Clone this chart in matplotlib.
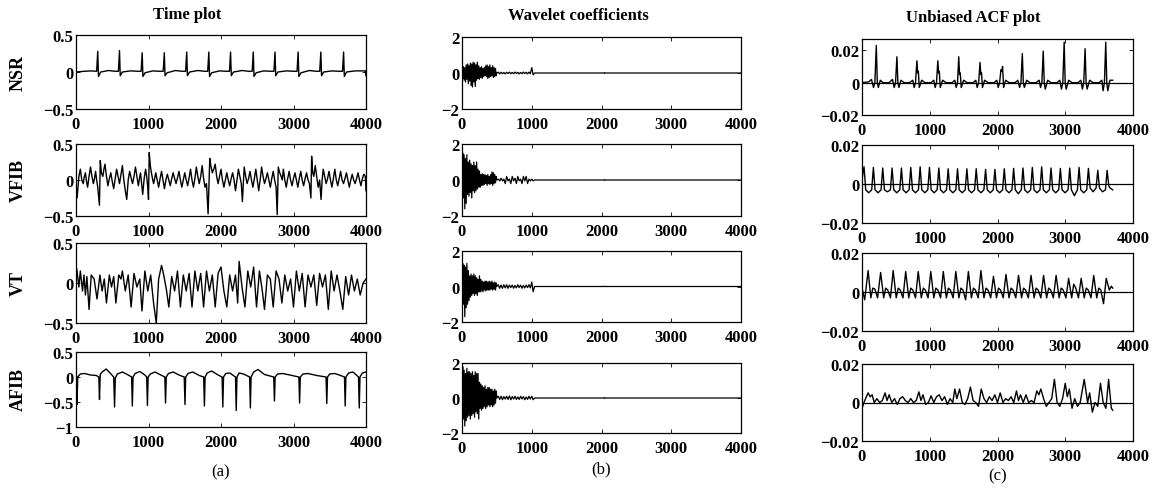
import numpy as np
import matplotlib
matplotlib.use('Agg')
import matplotlib.pyplot as plt

plt.rcParams['font.family'] = ['Liberation Serif', 'DejaVu Serif']
plt.rcParams['font.weight'] = 'bold'

# ---------------- data: time plots (column a) ----------------
nsr_t_x = [0, 120, 200, 285, 300, 310, 340, 450, 540, 585, 600, 610, 640, 750, 850,
           898, 913, 923, 953, 1060, 1150, 1203, 1218, 1228, 1258, 1370, 1460,
           1512, 1527, 1537, 1567, 1680, 1770, 1817, 1832, 1842, 1872, 1980, 2070,
           2117, 2132, 2142, 2172, 2290, 2380, 2430, 2445, 2455, 2485, 2590, 2680,
           2730, 2745, 2755, 2785, 2900, 3000, 3049, 3064, 3074, 3104, 3220, 3310,
           3362, 3377, 3387, 3417, 3530, 3620, 3676, 3691, 3701, 3731, 3850, 3990, 4000]
nsr_t_y = [0.0, 0.01, 0.015, 0.01, 0.28, -0.06, 0.0, 0.02, 0.01, 0.01, 0.29, -0.05, 0.0, 0.015, 0.01,
           0.01, 0.26, -0.06, -0.01, 0.015, 0.01, 0.01, 0.26, -0.05, -0.01, 0.02, 0.01,
           0.01, 0.27, -0.05, 0.0, 0.02, 0.01, 0.01, 0.27, -0.06, -0.01, 0.015, 0.01,
           0.01, 0.27, -0.05, 0.0, 0.02, 0.01, 0.01, 0.27, -0.06, -0.01, 0.015, 0.01,
           0.01, 0.27, -0.05, 0.0, 0.015, 0.01, 0.01, 0.27, -0.06, -0.01, 0.02, 0.01,
           0.01, 0.27, -0.05, 0.0, 0.015, 0.01, 0.01, 0.27, -0.06, 0.0, 0.015, 0.015, -0.05]

vfib_t_x = [0, 15, 40, 60, 80, 100, 115, 130, 145, 160, 180, 200, 220, 240, 255, 270, 285, 300,
            323, 335, 350, 370, 385, 400, 420, 440, 460, 480, 500, 520, 540, 560, 580, 600, 620,
            640, 660, 680, 700, 720, 740, 760, 780, 800, 820, 840, 860, 875, 890, 905, 920, 940,
            960, 975, 990, 1000, 1010, 1025, 1040, 1055, 1070, 1085, 1100, 1120, 1140, 1160,
            1180, 1200, 1220, 1240, 1260, 1280, 1300, 1320, 1340, 1360, 1380, 1400, 1420, 1440,
            1460, 1480, 1500, 1520, 1540, 1560, 1580, 1600, 1620, 1640, 1660, 1680, 1700, 1720,
            1740, 1760, 1780, 1800, 1822, 1845, 1860, 1880, 1900, 1920, 1940, 1960, 1980, 2000,
            2020, 2040, 2060, 2080, 2100, 2120, 2140, 2160, 2180, 2200, 2220, 2240, 2260, 2280,
            2295, 2320, 2340, 2360, 2380, 2400, 2420, 2440, 2460, 2480, 2500, 2520, 2540, 2560,
            2580, 2600, 2620, 2640, 2660, 2680, 2700, 2720, 2740, 2760, 2775, 2790, 2810, 2830,
            2845, 2860, 2880, 2900, 2920, 2940, 2960, 2980, 3000, 3020, 3040, 3060, 3080, 3100,
            3120, 3140, 3160, 3180, 3200, 3220, 3240, 3250, 3265, 3280, 3300, 3320, 3340, 3360,
            3380, 3395, 3410, 3430, 3450, 3470, 3490, 3510, 3530, 3550, 3570, 3590, 3610, 3630,
            3650, 3670, 3690, 3710, 3730, 3750, 3770, 3790, 3810, 3830, 3850, 3870, 3890, 3910,
            3930, 3950, 3970, 3990, 4000]
vfib_t_y = [-0.05, -0.25, 0.05, 0.15, 0.0, -0.05, 0.05, 0.1, -0.02, -0.1, 0.05, 0.18, 0.05,
            -0.05, 0.02, 0.12, 0.0, -0.1, -0.35, 0.27, 0.1, 0.05, 0.15, 0.22, 0.05, -0.08,
            0.02, 0.1, -0.02, -0.12, 0.02, 0.15, 0.05, -0.05, 0.08, 0.2, 0.0, -0.15, -0.27,
            0.0, 0.12, 0.03, -0.05, 0.05, 0.18, 0.05, -0.08, 0.02, 0.1, -0.05, -0.2, 0.02, 0.15,
            0.05, -0.1, -0.27, 0.38, 0.2, 0.1, 0.02, -0.05, 0.02, 0.1, 0.0, -0.1, 0.02, 0.12,
            0.0, -0.12, 0.0, 0.08, 0.0, -0.08, 0.02, 0.1, 0.02, -0.05, 0.03, 0.12, 0.0, -0.1,
            0.0, 0.1, 0.0, -0.08, 0.03, 0.15, 0.0, -0.1, 0.02, 0.18, 0.05, -0.05, 0.05, 0.2,
            0.02, -0.1, -0.05, -0.47, 0.3, 0.2, 0.1, 0.15, 0.22, 0.05, -0.05, 0.05, 0.15, 0.0,
            -0.1, 0.0, 0.1, 0.0, -0.08, 0.02, 0.1, 0.0, -0.15, 0.0, 0.15, 0.05, -0.05, -0.3,
            0.18, 0.05, -0.05, 0.02, 0.12, 0.0, -0.1, 0.02, 0.15, 0.0, -0.15, 0.0, 0.18, 0.05,
            -0.05, 0.02, 0.1, 0.0, -0.1, 0.02, 0.12, 0.0, -0.1, -0.48, 0.18, 0.1, 0.05, 0.0,
            0.15, 0.0, -0.1, 0.02, 0.12, 0.0, -0.08, 0.02, 0.1, 0.0, -0.1, 0.02, 0.12, 0.0,
            -0.08, 0.02, 0.1, 0.0, -0.05, -0.25, 0.33, 0.1, 0.05, 0.2, 0.05, -0.1, 0.0, -0.27,
            0.0, 0.15, 0.05, -0.05, 0.02, 0.12, 0.0, -0.1, 0.02, 0.15, 0.0, -0.08, 0.02, 0.12,
            0.0, -0.05, 0.02, 0.1, 0.0, -0.1, 0.0, 0.08, 0.0, -0.05, 0.02, 0.1, 0.0, -0.08,
            0.02, 0.08, 0.05, -0.15]

vt_t_x = [0, 10, 40, 60, 90, 110, 130, 150, 180, 210, 250, 290, 330, 360, 390, 420, 460, 490,
          520, 550, 590, 620, 640, 680, 720, 760, 800, 840, 880, 910, 950, 990, 1030, 1070, 1107,
          1140, 1180, 1210, 1250, 1280, 1320, 1360, 1400, 1440, 1480, 1520, 1560, 1600, 1640,
          1680, 1720, 1760, 1800, 1840, 1880, 1920, 1960, 2000, 2040, 2080, 2120, 2160, 2200,
          2230, 2250, 2290, 2330, 2370, 2410, 2450, 2490, 2530, 2570, 2600, 2640, 2680, 2720,
          2760, 2800, 2840, 2880, 2920, 2960, 3000, 3040, 3080, 3120, 3160, 3200, 3240, 3280,
          3320, 3360, 3400, 3440, 3480, 3520, 3560, 3600, 3640, 3680, 3720, 3760, 3800, 3840,
          3880, 3920, 3960, 4000]
vt_t_y = [0.05, 0.18, -0.05, 0.15, -0.1, 0.1, -0.15, 0.08, -0.33, 0.1, 0.05, -0.2, 0.1, -0.1,
          0.05, -0.25, 0.1, -0.05, 0.08, -0.25, 0.1, 0.05, 0.15, -0.1, 0.1, -0.3, 0.12, -0.05,
          0.05, -0.35, 0.15, -0.1, 0.1, -0.25, -0.5, 0.05, 0.22, 0.1, -0.1, -0.3, 0.08, -0.1,
          0.15, -0.3, 0.1, -0.1, 0.12, -0.3, 0.15, -0.1, 0.12, -0.3, 0.15, -0.1, 0.1, -0.3,
          0.12, 0.2, -0.1, -0.3, 0.1, -0.1, 0.1, -0.25, 0.27, -0.05, -0.3, 0.15, -0.05, 0.2,
          -0.3, 0.15, -0.1, -0.33, 0.1, 0.05, -0.3, 0.15, 0.05, -0.25, 0.1, -0.1, 0.05, -0.3,
          0.15, -0.1, 0.12, -0.3, 0.1, -0.05, 0.1, -0.28, 0.12, -0.05, 0.1, -0.33, 0.15, -0.1,
          0.1, -0.1, -0.33, 0.08, -0.15, 0.1, -0.1, 0.05, -0.15, 0.0, 0.05]

afib_t_x = [0, 8, 14, 24, 60, 120, 200, 280, 315, 324, 334, 360, 416, 470, 520, 532, 542, 570,
            640, 720, 767, 777, 787, 815, 880, 950, 975, 985, 995, 1025, 1090, 1170, 1225, 1235,
            1245, 1275, 1340, 1420, 1493, 1503, 1513, 1545, 1610, 1700, 1761, 1771, 1781, 1810,
            1870, 1960, 2015, 2025, 2035, 2065, 2120, 2200, 2210, 2220, 2250, 2310, 2395, 2405,
            2415, 2450, 2510, 2600, 2727, 2737, 2747, 2780, 2850, 2950, 3074, 3084, 3094, 3130,
            3200, 3320, 3449, 3459, 3469, 3500, 3570, 3650, 3703, 3713, 3723, 3760, 3820, 3897,
            3907, 3917, 3950, 4000]
afib_t_y = [0.0, 0.0, -0.55, 0.0, 0.06, 0.07, 0.04, 0.03, 0.0, -0.45, 0.05, 0.1, 0.16, 0.08,
            0.0, -0.6, -0.02, 0.06, 0.1, 0.04, 0.0, -0.58, 0.0, 0.07, 0.11, 0.04, 0.0, -0.57, 0.0,
            0.06, 0.1, 0.04, 0.0, -0.52, 0.0, 0.07, 0.1, 0.04, 0.0, -0.55, 0.0, 0.07, 0.1, 0.03,
            0.0, -0.58, 0.0, 0.08, 0.12, 0.04, 0.0, -0.6, 0.0, 0.07, 0.08, 0.0, -0.67, 0.0, 0.08,
            0.06, 0.0, -0.62, 0.0, 0.1, 0.15, 0.05, 0.0, -0.48, 0.0, 0.06, 0.07, 0.04, 0.0, -0.52,
            0.0, 0.06, 0.07, 0.03, 0.0, -0.53, 0.0, 0.06, 0.07, 0.03, 0.0, -0.58, 0.0, 0.08, 0.1,
            0.0, -0.62, 0.0, 0.08, 0.1]

# ---------------- data: wavelet coefficients (column b) ----------------
# burst region sampled every 10, settling region every 20
nsr_w_burst = [0.1, -0.3, 0.35, -0.4, 0.3, -0.5, 0.45, -0.35, 0.5, -0.6, 0.4, -0.45, 0.55,
               -0.7, 0.5, -0.78, 0.6, -0.5, 0.55, -0.75, 0.45, -0.4, 0.6, -0.3, 0.4, -0.35,
               0.3, -0.25, 0.35, -0.3, 0.25, -0.2, 0.3, -0.15, 0.4, -0.2, 0.45, -0.3, 0.35,
               -0.25, 0.45, -0.2, 0.3, -0.15, 0.4, -0.25, 0.3, -0.2, 0.25, -0.15, 0.0]
nsr_w_settle = [0.05, -0.05, 0.04, -0.04, 0.03, -0.05, 0.04, -0.03, 0.05, -0.04, 0.03, -0.04,
                0.05, -0.03, 0.04, -0.05, 0.03, -0.04, 0.05, -0.03, 0.04, -0.05, 0.05, -0.04,
                0.3, -0.1]
vfib_w_burst = [0.2, 1.5, -1.0, 1.4, -1.6, 1.2, -1.3, 1.4, -0.8, 1.0, -0.9, 1.1, -0.7, 0.9,
                -1.0, 0.8, -0.6, 1.0, -0.7, 0.8, -0.6, 1.0, -0.5, 0.6, -0.4, 0.5, -0.4, 0.3,
                -0.3, 0.35, -0.3, 0.3, -0.25, 0.3, -0.2, 0.25, -0.3, 0.3, -0.2, 0.2, -0.25,
                0.3, -0.2, 0.45, -0.3, 0.4, -0.2, 0.3, -0.15, 0.2, 0.0]
vfib_w_settle = [0.05, -0.05, 0.1, -0.05, 0.05, -0.2, 0.2, -0.05, 0.05, -0.2, 0.2, -0.05, 0.1,
                 -0.2, 0.2, -0.05, 0.05, -0.2, 0.2, -0.05, 0.2, -0.2, 0.05, -0.05, 0.05, -0.05]
vt_w_burst = [0.3, 1.3, -1.0, 1.2, -1.7, 1.1, -1.2, 1.3, -1.0, 0.9, -0.8, 0.6, -0.6, 0.7,
              -0.5, 0.6, -0.4, 0.7, -0.5, 0.6, -0.4, 0.5, -0.5, 0.4, -0.3, 0.6, -0.3, 0.4,
              -0.25, 0.3, -0.3, 0.25, -0.2, 0.3, -0.25, 0.3, -0.2, 0.25, -0.2, 0.3, -0.2,
              0.25, -0.15, 0.3, -0.2, 0.2, -0.15, 0.25, -0.2, 0.2, 0.0]
vt_w_settle = [0.1, -0.1, 0.08, -0.1, 0.1, -0.08, 0.1, -0.1, 0.08, -0.06, 0.08, -0.1, 0.06,
               -0.08, 0.1, -0.06, 0.08, -0.1, 0.06, -0.08, 0.08, -0.06, 0.1, -0.08, 0.25, -0.3]
afib_w_burst = [0.5, 1.8, -1.2, 1.6, -1.6, 1.4, -1.3, 1.7, -1.1, 1.5, -1.0, 1.5, -1.2, 1.4,
                -1.0, 1.5, -0.9, 1.3, -1.1, 1.5, -0.8, 1.4, -0.9, 1.4, -1.2, 0.9, -0.6, 0.8,
                -0.7, 0.7, -0.6, 0.6, -0.5, 0.7, -0.6, 0.5, -0.5, 0.6, -0.4, 0.6, -0.5, 0.5,
                -0.4, 0.5, -0.5, 0.4, -0.4, 0.5, -0.3, 0.4, 0.0]
afib_w_settle = [0.1, -0.08, 0.1, -0.1, 0.08, -0.06, 0.1, -0.08, 0.12, -0.1, 0.08, -0.06, 0.1,
                 -0.08, 0.06, -0.08, 0.1, -0.06, 0.08, -0.1, 0.06, -0.08, 0.1, -0.06, 0.1, -0.1]

# ---------------- data: unbiased ACF (column c) ----------------
nsr_a_x = [0, 100, 140, 170, 190, 211, 226, 241, 270, 310, 400, 450, 475, 495, 515, 530, 545,
           575, 620, 700, 750, 770, 790, 810, 822, 832, 845, 880, 930, 1020, 1060, 1080, 1100,
           1119, 1131, 1141, 1155, 1190, 1240, 1330, 1370, 1390, 1410, 1428, 1440, 1450, 1465,
           1500, 1550, 1640, 1680, 1700, 1722, 1742, 1754, 1764, 1778, 1810, 1860, 1950, 1990,
           2010, 2031, 2051, 2063, 2075, 2090, 2120, 2170, 2260, 2300, 2326, 2346, 2366, 2381,
           2396, 2430, 2480, 2570, 2615, 2635, 2655, 2675, 2690, 2705, 2740, 2790, 2880, 2920,
           2944, 2964, 2984, 2999, 3014, 3050, 3100, 3190, 3230, 3253, 3273, 3293, 3308, 3323,
           3360, 3410, 3500, 3540, 3558, 3578, 3598, 3613, 3628, 3660, 3700]
nsr_a_y = [0.0, 0.0005, 0.002, -0.003, 0.0, 0.023, 0.0, -0.003, 0.0015, 0.0, 0.0, 0.002,
           -0.003, 0.0, 0.016, 0.0, -0.003, 0.0015, 0.0, 0.0, 0.0015, -0.003, 0.0, 0.0135,
           0.006, 0.007, -0.003, 0.0015, 0.0, 0.0, 0.0015, -0.003, 0.0, 0.0135, 0.006, 0.007,
           -0.003, 0.0015, 0.0, 0.0, 0.0015, -0.003, 0.0, 0.016, 0.005, 0.006, -0.003, 0.0015,
           0.0, 0.0, 0.0015, -0.003, 0.0, 0.0125, 0.005, 0.006, -0.003, 0.0015, 0.0, 0.0,
           0.0015, -0.003, 0.0, 0.008, 0.007, 0.01, -0.003, 0.0015, 0.0, 0.0, 0.0015, -0.003,
           0.0, 0.018, 0.0, -0.003, 0.0015, 0.0, 0.0, 0.0015, -0.003, 0.0, 0.0195, 0.0, -0.004,
           0.0015, 0.0, 0.0, 0.0015, -0.004, 0.0, 0.025, 0.0, -0.004, 0.0015, 0.0, 0.0, 0.0015,
           -0.004, 0.0, 0.021, 0.0, -0.004, 0.0015, 0.0, 0.0, 0.0015, -0.005, 0.0, 0.025, 0.0,
           -0.005, 0.0015, 0.0015]

# VFIB ACF: narrow peaks, broad flat troughs (4 vertices per cycle)
vfib_a_x = [0, 15, 30, 55, 99, 143, 168, 193, 237, 281, 306, 331, 375, 419, 444, 469, 513, 557,
            582, 607, 651, 695, 720, 745, 789, 833, 858, 883, 927, 971, 996, 1021, 1065, 1109,
            1134, 1159, 1203, 1247, 1272, 1297, 1341, 1385, 1410, 1435, 1479, 1523, 1548, 1573,
            1617, 1661, 1686, 1711, 1755, 1799, 1824, 1849, 1893, 1937, 1962, 1987, 2031, 2075,
            2100, 2125, 2169, 2213, 2238, 2263, 2307, 2351, 2376, 2401, 2445, 2489, 2514, 2539,
            2583, 2627, 2652, 2677, 2721, 2765, 2790, 2815, 2859, 2903, 2928, 2953, 2997, 3041,
            3066, 3091, 3135, 3179, 3204, 3229, 3273, 3317, 3342, 3367, 3411, 3455, 3480, 3505,
            3549, 3593, 3618, 3643, 3660, 3700]
vfib_a_y = [0.002, 0.006, 0.0088, -0.003, -0.0045, -0.003, 0.0085, -0.003, -0.0045, -0.003,
            0.0082, -0.003, -0.004, -0.003, 0.0082, -0.003, -0.0045, -0.003, 0.0082, -0.003,
            -0.0045, -0.003, 0.0085, -0.003, -0.0045, -0.003, 0.0088, -0.003, -0.0045, -0.003,
            0.0085, -0.003, -0.0045, -0.003, 0.0082, -0.003, -0.0045, -0.003, 0.0078, -0.003,
            -0.0045, -0.003, 0.0078, -0.003, -0.0045, -0.003, 0.0078, -0.003, -0.0045, -0.003,
            0.0078, -0.003, -0.0045, -0.003, 0.0075, -0.003, -0.0045, -0.003, 0.0075, -0.003,
            -0.0045, -0.003, 0.0078, -0.003, -0.0045, -0.003, 0.008, -0.003, -0.005, -0.003,
            0.0082, -0.003, -0.0045, -0.003, 0.0085, -0.003, -0.0045, -0.003, 0.0088, -0.003,
            -0.0045, -0.003, 0.0082, -0.003, -0.0045, -0.003, 0.008, -0.003, -0.0045, -0.003,
            0.0082, -0.003, -0.006, -0.003, 0.0085, -0.003, -0.0045, -0.003, 0.008, -0.002,
            -0.004, -0.002, 0.007, -0.002, -0.004, -0.003, 0.007, -0.001, -0.002, -0.003]

vt_a_x = [0, 40, 90, 130, 160, 190, 230, 275, 320, 350, 380, 420, 460, 505, 535, 565, 605,
          645, 690, 720, 750, 790, 830, 875, 905, 935, 975, 1015, 1060, 1090, 1120, 1160, 1200,
          1245, 1275, 1305, 1345, 1385, 1430, 1460, 1490, 1530, 1570, 1615, 1645, 1675, 1715,
          1755, 1800, 1830, 1860, 1900, 1940, 1985, 2015, 2045, 2085, 2125, 2170, 2200, 2230,
          2270, 2310, 2355, 2385, 2415, 2455, 2495, 2540, 2570, 2600, 2640, 2680, 2725, 2755,
          2785, 2825, 2865, 2910, 2940, 2970, 3010, 3050, 3095, 3125, 3155, 3195, 3235, 3280,
          3310, 3340, 3380, 3420, 3465, 3495, 3525, 3565, 3605, 3650, 3680, 3700]
vt_a_y = [0.002, -0.004, 0.011, -0.003, 0.002, 0.0015, -0.003, 0.01, -0.003, 0.002, 0.001,
          -0.003, 0.011, -0.003, 0.002, 0.001, -0.003, 0.0105, -0.003, 0.002, 0.001, -0.003,
          0.0105, -0.003, 0.002, 0.001, -0.003, 0.0105, -0.003, 0.002, 0.001, -0.003, 0.0105,
          -0.003, 0.002, 0.001, -0.003, 0.0105, -0.003, 0.002, 0.001, -0.004, 0.0105, -0.003,
          0.002, 0.001, -0.003, 0.011, -0.003, 0.002, 0.001, -0.003, 0.008, -0.003, 0.002,
          0.001, -0.003, 0.009, -0.003, 0.002, 0.001, -0.003, 0.0085, -0.003, 0.002, 0.001,
          -0.003, 0.0085, -0.003, 0.002, 0.001, -0.003, 0.0085, -0.003, 0.002, 0.001, -0.003,
          0.0085, -0.003, 0.002, 0.001, -0.003, 0.007, -0.003, 0.004, 0.002, -0.003, 0.007,
          -0.003, 0.002, 0.001, -0.003, 0.0085, -0.003, 0.002, 0.001, -0.006, 0.007, 0.001,
          0.003, 0.002]

afib_a_x = [0, 40, 90, 120, 150, 180, 220, 260, 300, 340, 370, 400, 440, 480, 520, 560, 600,
            640, 680, 720, 760, 800, 840, 870, 900, 940, 980, 1020, 1060, 1100, 1140, 1180,
            1220, 1260, 1300, 1340, 1370, 1400, 1440, 1480, 1520, 1560, 1600, 1640, 1680, 1720,
            1760, 1800, 1840, 1880, 1920, 1960, 2000, 2040, 2080, 2120, 2160, 2200, 2240, 2280,
            2310, 2340, 2380, 2420, 2460, 2500, 2540, 2580, 2610, 2640, 2680, 2720, 2760, 2800,
            2840, 2880, 2920, 2960, 3000, 3030, 3060, 3100, 3140, 3180, 3220, 3280, 3330, 3360,
            3400, 3440, 3480, 3520, 3560, 3600, 3640, 3680, 3700]
afib_a_y = [-0.003, 0.001, 0.005, 0.003, 0.004, 0.0, 0.002, 0.0, 0.001, 0.005, 0.001, 0.004,
            0.0, 0.002, -0.001, 0.002, 0.003, 0.001, 0.0, 0.002, 0.0, 0.001, 0.0055, 0.001,
            0.004, -0.001, 0.0, 0.0035, 0.0, 0.003, 0.004, 0.001, 0.003, -0.001, 0.002, 0.0,
            0.007, 0.002, 0.007, 0.0, -0.001, 0.002, 0.008, 0.001, 0.0, -0.002, 0.007, 0.002,
            0.0, 0.003, 0.001, 0.004, 0.0, 0.005, 0.0, 0.002, 0.001, 0.003, 0.0, 0.006, 0.001,
            0.004, 0.0, 0.004, 0.0, 0.001, 0.0, 0.006, 0.004, 0.007, 0.002, -0.002, 0.0, 0.002,
            0.012, 0.0, -0.002, 0.002, 0.01, 0.003, 0.007, -0.003, 0.002, -0.002, 0.0, 0.012,
            0.0, 0.005, -0.005, 0.0, -0.002, 0.01, 0.0, -0.003, 0.012, -0.003, -0.004]

row_names = ['NSR', 'VFIB', 'VT', 'AFIB']
col_titles = ['Time plot', 'Wavelet coefficients', 'Unbiased ACF plot']
panel_tags = ['(a)', '(b)', '(c)']
x_ticks = [0, 1000, 2000, 3000, 4000]

time_x = [nsr_t_x, vfib_t_x, vt_t_x, afib_t_x]
time_y = [nsr_t_y, vfib_t_y, vt_t_y, afib_t_y]
time_ylim = [(-0.5, 0.5), (-0.5, 0.5), (-0.5, 0.5), (-1, 0.5)]
time_yticks = [[-0.5, 0, 0.5], [-0.5, 0, 0.5], [-0.5, 0, 0.5], [-1, -0.5, 0, 0.5]]
wav_burst = [nsr_w_burst, vfib_w_burst, vt_w_burst, afib_w_burst]
wav_settle = [nsr_w_settle, vfib_w_settle, vt_w_settle, afib_w_settle]
acf_x = [nsr_a_x, vfib_a_x, vt_a_x, afib_a_x]
acf_y = [nsr_a_y, vfib_a_y, vt_a_y, afib_a_y]

# sample positions for the wavelet coefficient records
burst_pos = np.arange(0, 510, 10)
settle_pos = np.arange(520, 1040, 20)
tail_pos = [1040, 2040, 2045, 2050, 4000]
tail_val = [0.0, 0.0, 0.02, 0.0, 0.0]

# axes boxes in pixels (left, right, top, bottom) per column and row
W, H = 1159, 489
col_lr = [(76, 366), (462, 741), (862, 1133)]
row_tb = [[(36, 110), (145, 217), (244, 324), (353, 428)],
          [(38, 110), (145, 217), (252, 323), (364, 434)],
          [(40, 116), (146, 224), (254, 332), (365, 442)]]
row_label_y = [73, 181, 284, 390]

fig = plt.figure(figsize=(W / 100, H / 100), dpi=100)
fs = 12


def make_ax(c, r):
    l, rr = col_lr[c]
    t, b = row_tb[c][r]
    ax = fig.add_axes([l / W, 1 - b / H, (rr - l) / W, (b - t) / H])
    ax.tick_params(direction='in', top=True, right=True, length=3, width=0.6,
                   labelsize=fs)
    ax.tick_params(axis='x', pad=5)
    ax.tick_params(axis='y', pad=2)
    for s in ax.spines.values():
        s.set_linewidth(0.9)
    ax.set_xlim(0, 4000)
    ax.set_xticks(x_ticks)
    ax.set_xticklabels([str(v) for v in x_ticks], fontweight='bold')
    return ax


def fmt(v):
    return ('%g' % v).replace('-', '\u2212')


for r in range(4):
    # time plot
    ax = make_ax(0, r)
    ax.plot(time_x[r], time_y[r], color='black', lw=1.0)
    ax.set_ylim(*time_ylim[r])
    ax.set_yticks(time_yticks[r])
    ax.set_yticklabels([fmt(v) for v in time_yticks[r]], fontweight='bold')

    # wavelet coefficients
    ax = make_ax(1, r)
    wx = list(burst_pos) + list(settle_pos) + tail_pos
    wy = wav_burst[r] + wav_settle[r] + tail_val
    ax.plot(wx, wy, color='black', lw=0.9)
    ax.set_ylim(-2, 2)
    ax.set_yticks([-2, 0, 2])
    ax.set_yticklabels([fmt(v) for v in [-2, 0, 2]], fontweight='bold')

    # unbiased ACF
    ax = make_ax(2, r)
    ax.axhline(0, color='black', lw=0.9)
    ax.plot(acf_x[r], acf_y[r], color='black', lw=1.0)
    ax.set_ylim(-0.02, 0.02 if r > 0 else 0.027)
    ax.set_yticks([-0.02, 0, 0.02])
    ax.set_yticklabels([fmt(v) for v in [-0.02, 0, 0.02]], fontweight='bold')

    fig.text(18 / W, 1 - row_label_y[r] / H, row_names[r], rotation=90, ha='center',
             va='center', fontsize=13, fontweight='bold')

# column titles and panel tags
title_xy = [(187, 15), (578, 16), (973, 18)]
tag_xy = [(221, 472), (601, 469), (998, 476)]
for c in range(3):
    fig.text(title_xy[c][0] / W, 1 - title_xy[c][1] / H, col_titles[c], ha='center',
             va='center', fontsize=12, fontweight='bold')
    fig.text(tag_xy[c][0] / W, 1 - tag_xy[c][1] / H, panel_tags[c], ha='center',
             va='center', fontsize=12, fontweight='normal')

fig.savefig('out.png', dpi=100)
